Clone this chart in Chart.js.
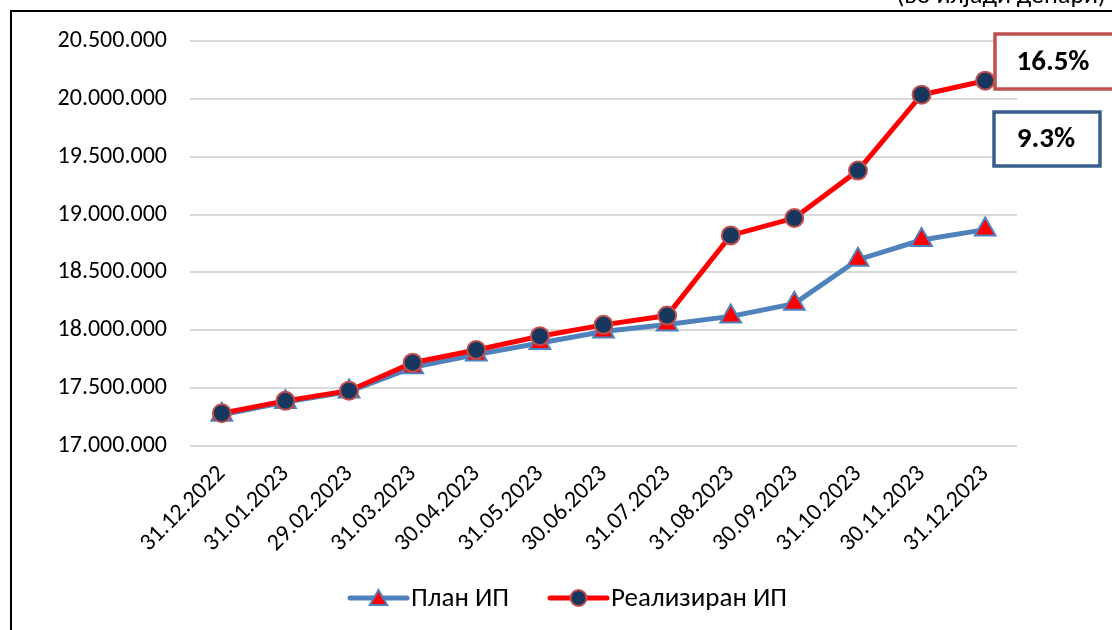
<!DOCTYPE html>
<html>
<head>
<meta charset="utf-8">
<script src="https://cdn.jsdelivr.net/npm/chart.js@4.4.1/dist/chart.umd.min.js"></script>
<style>
    html, body { margin: 0; padding: 0; background: #fff; }
    #wrap { width: 1112px; height: 630px; position: relative; }
</style>
</head>
<body>
<div id="wrap"><canvas id="ipChart" width="1112" height="630"></canvas></div>
<script>
// Dates (x categories)
const dates = [
    '31.12.2022', '31.01.2023', '29.02.2023', '31.03.2023', '30.04.2023',
    '31.05.2023', '30.06.2023', '31.07.2023', '31.08.2023', '30.09.2023',
    '31.10.2023', '30.11.2023', '31.12.2023'
];

// План ИП (in thousands of denars)
const planIP = [
    17270000, 17380000, 17470000, 17680000, 17790000, 17890000, 17990000,
    18050000, 18120000, 18230000, 18610000, 18780000, 18870000
];

// Реализиран ИП
const realIP = [
    17283000, 17390000, 17478000, 17720000, 17830000, 17949000, 18047000,
    18127000, 18820000, 18970000, 19380000, 20036000, 20157000
];

const seriesNames = ['План ИП', 'Реализиран ИП'];
const growthLabels = ['16.5%', '9.3%'];
const unitNote = '(во илјади денари)';

const yMin = 17000000;
const yMax = 20500000;
const yStep = 500000;

const FONT = 'Carlito, Lato, "Open Sans", sans-serif';

// Format 20500000 -> 20.500.000
function formatDots(value) {
    return String(Math.round(value)).replace(/\B(?=(\d{3})+(?!\d))/g, '.');
}

// Frame, unit note, growth boxes and line+marker legend
const decorPlugin = {
    id: 'decor',
    beforeDraw(chart) {
        const ctx = chart.ctx;
        ctx.save();
        ctx.fillStyle = '#fff';
        ctx.fillRect(0, 0, chart.width, chart.height);
        ctx.restore();
    },
    afterDraw(chart) {
        const ctx = chart.ctx;
        const area = chart.chartArea;
        ctx.save();

        // outer frame
        ctx.strokeStyle = '#000';
        ctx.lineWidth = 2;
        ctx.beginPath();
        ctx.moveTo(11, chart.height);
        ctx.lineTo(11, 11);
        ctx.lineTo(chart.width, 11);
        ctx.stroke();

        // unit note, clipped by the top of the picture
        ctx.fillStyle = '#000';
        ctx.font = '26px ' + FONT;
        ctx.textAlign = 'right';
        ctx.textBaseline = 'alphabetic';
        ctx.fillText(unitNote, chart.width - 6, 3);

        // growth boxes
        const boxes = [
            { x: area.right - 22, y: 34, w: 140, h: 55, color: '#C0504D', text: growthLabels[0], tx: area.right + 36 },
            { x: area.right - 23, y: 112, w: 106, h: 54, color: '#385D8A', text: growthLabels[1], tx: area.right + 29 }
        ];
        boxes.forEach(b => {
            ctx.fillStyle = '#fff';
            ctx.fillRect(b.x, b.y, b.w, b.h);
            ctx.strokeStyle = b.color;
            ctx.lineWidth = 3.5;
            ctx.strokeRect(b.x, b.y, b.w, b.h);
            ctx.fillStyle = '#000';
            ctx.font = 'bold 29px ' + FONT;
            ctx.textAlign = 'center';
            ctx.textBaseline = 'middle';
            ctx.fillText(b.text, b.tx, b.y + b.h / 2 + 1);
        });

        // legend
        const legendY = 598;
        const items = [
            { ds: chart.data.datasets[0], x: 350, r: 10 },
            { ds: chart.data.datasets[1], x: 550, r: 8 }
        ];
        items.forEach(it => {
            const ds = it.ds;
            ctx.strokeStyle = ds.borderColor;
            ctx.lineWidth = ds.borderWidth;
            ctx.lineCap = 'round';
            ctx.beginPath();
            ctx.moveTo(it.x, legendY);
            ctx.lineTo(it.x + 57, legendY);
            ctx.stroke();
            ctx.fillStyle = ds.pointBackgroundColor;
            ctx.strokeStyle = ds.pointBorderColor;
            ctx.lineWidth = ds.pointBorderWidth;
            Chart.helpers.drawPoint(ctx, {
                pointStyle: ds.pointStyle,
                radius: it.r,
                rotation: 0,
                borderWidth: ds.pointBorderWidth
            }, it.x + 28.5, legendY + (ds.pointStyle === 'triangle' ? 2 : 0));
            ctx.fillStyle = '#000';
            ctx.font = '27px ' + FONT;
            ctx.textAlign = 'left';
            ctx.textBaseline = 'middle';
            ctx.fillText(ds.label, it.x + 61, legendY + 1);
        });

        ctx.restore();
    }
};

const ctx = document.getElementById('ipChart');

new Chart(ctx, {
    type: 'line',
    data: {
        labels: dates,
        datasets: [
            {
                label: seriesNames[0],
                data: planIP,
                borderColor: '#4F81BD',
                borderWidth: 5,
                pointStyle: 'triangle',
                pointRadius: 12,
                pointBackgroundColor: '#FF0000',
                pointBorderColor: '#4F81BD',
                pointBorderWidth: 2,
                tension: 0,
                order: 2
            },
            {
                label: seriesNames[1],
                data: realIP,
                borderColor: '#FF0000',
                borderWidth: 5,
                pointStyle: 'circle',
                pointRadius: 9,
                pointBackgroundColor: '#17375E',
                pointBorderColor: '#C0504D',
                pointBorderWidth: 2,
                tension: 0,
                order: 1
            }
        ]
    },
    options: {
        responsive: false,
        animation: false,
        devicePixelRatio: 1,
        layout: {
            padding: { top: 41, right: 95, left: 0, bottom: 0 }
        },
        plugins: {
            legend: { display: false },
            tooltip: { enabled: false }
        },
        scales: {
            y: {
                min: yMin,
                max: yMax,
                border: { display: false },
                grid: {
                    color: '#D9D9D9',
                    lineWidth: 2,
                    drawTicks: false
                },
                ticks: {
                    stepSize: yStep,
                    padding: 23,
                    color: '#000',
                    font: { family: FONT, size: 24 },
                    callback: v => formatDots(v)
                },
                afterFit(scale) {
                    scale.width = 190;
                }
            },
            x: {
                offset: true,
                border: { display: false },
                grid: { display: false, drawTicks: false },
                ticks: {
                    minRotation: 45,
                    maxRotation: 45,
                    padding: 14,
                    color: '#000',
                    font: { family: FONT, size: 24 }
                },
                afterFit(scale) {
                    scale.height = 184;
                }
            }
        }
    },
    plugins: [decorPlugin]
});
</script>
</body>
</html>
